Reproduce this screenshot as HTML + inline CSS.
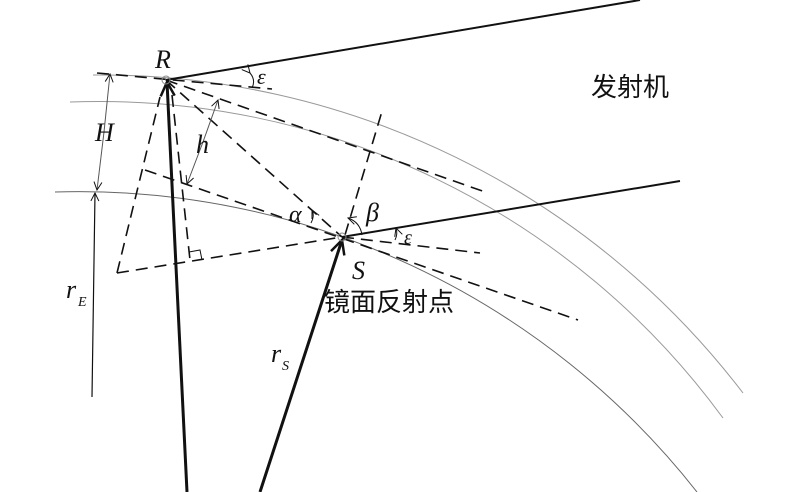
<!DOCTYPE html>
<html><head><meta charset="utf-8"><style>
html,body{margin:0;padding:0;background:#fff;}
svg{display:block;}
.t{font-family:"Liberation Serif",serif;font-style:italic;fill:#111;}
.c{font-family:"Liberation Sans","Noto Sans CJK SC",sans-serif;fill:#111;}
</style></head><body>
<svg width="800" height="492" viewBox="0 0 800 492" xmlns="http://www.w3.org/2000/svg">
<defs>
<marker id="a" markerWidth="10" markerHeight="10" refX="9" refY="5" orient="auto" markerUnits="userSpaceOnUse"><path d="M1,1 L9,5 L1,9" fill="none" stroke="#111" stroke-width="1"/></marker>
<marker id="b" markerWidth="18" markerHeight="18" refX="16" refY="9" orient="auto" markerUnits="userSpaceOnUse"><path d="M2,2 L16,9 L2,16" fill="none" stroke="#111" stroke-width="2.5"/></marker>
</defs>
<g fill="none">
<!-- earth arcs -->
<path d="M93,75 A808.2,808.2 0 0 1 743,393" stroke="#999" stroke-width="1"/>
<path d="M70,102 A773.2,773.2 0 0 1 723,418" stroke="#999" stroke-width="1"/>
<path d="M55,192 A786.3,786.3 0 0 1 697,492" stroke="#666" stroke-width="1"/>
<!-- solid rays -->
<line x1="166" y1="80" x2="640" y2="0" stroke="#111" stroke-width="2"/>
<line x1="342" y1="237" x2="680" y2="181" stroke="#111" stroke-width="2"/>
<!-- dashed -->
<g stroke="#111" stroke-width="1.6" stroke-dasharray="12,7">
<line x1="97" y1="73" x2="272" y2="89"/>
<line x1="166" y1="80" x2="488" y2="193"/>
<line x1="166" y1="80" x2="342" y2="237"/>
<line x1="145" y1="170" x2="578" y2="320"/>
<line x1="117" y1="273" x2="342" y2="237"/>
<line x1="342" y1="237" x2="480" y2="253"/>
<line x1="117" y1="273" x2="160" y2="97"/>
<line x1="172" y1="95" x2="190" y2="260"/>
<line x1="345" y1="235" x2="383" y2="108"/>
</g>
<path d="M189,252 L200,250 L202,260" stroke="#111" stroke-width="1"/>
<!-- thick arrows -->
<line x1="187" y1="492" x2="167" y2="82" stroke="#111" stroke-width="3" marker-end="url(#b)"/>
<line x1="260" y1="492" x2="342" y2="240" stroke="#111" stroke-width="3" marker-end="url(#b)"/>
<!-- thin arrows -->
<line x1="92" y1="397" x2="95" y2="193" stroke="#111" stroke-width="1.2" marker-end="url(#a)"/>
<line x1="104" y1="132" x2="110" y2="74" stroke="#555" stroke-width="1" marker-end="url(#a)"/>
<line x1="104" y1="132" x2="97" y2="190" stroke="#555" stroke-width="1" marker-end="url(#a)"/>
<line x1="203" y1="142" x2="218" y2="100" stroke="#555" stroke-width="1" marker-end="url(#a)"/>
<line x1="203" y1="142" x2="187" y2="184" stroke="#555" stroke-width="1" marker-end="url(#a)"/>
<!-- angle arcs -->
<path d="M250,73 Q256,80 252,88" stroke="#111" stroke-width="1" marker-start="url(#a)"/>
<path d="M311,223 Q315,216 312,210" stroke="#111" stroke-width="1" marker-end="url(#a)"/>
<path d="M362,235 Q360,222 348,218" stroke="#111" stroke-width="1" marker-end="url(#a)"/>
<path d="M395,240 Q398,234 396,228" stroke="#111" stroke-width="1" marker-end="url(#a)"/>
<circle cx="166" cy="80" r="4" stroke="#888" stroke-width="1"/>
<circle cx="342" cy="237" r="4" stroke="#888" stroke-width="1"/>
</g>
<text class="t" x="155" y="68" font-size="26">R</text>
<text class="t" x="257" y="84" font-size="22">ε</text>
<text class="c" x="591" y="96" font-size="26">发射机</text>
<text class="t" x="95" y="141" font-size="26">H</text>
<text class="t" x="196" y="153" font-size="26">h</text>
<text class="t" x="289" y="222" font-size="24">α</text>
<text class="t" x="366" y="221" font-size="26">β</text>
<text class="t" x="404" y="244" font-size="20">ε</text>
<text class="t" x="352" y="279" font-size="26">S</text>
<text class="c" x="324" y="311" font-size="26">镜面反射点</text>
<text class="t" x="66" y="298" font-size="26">r</text>
<text class="t" x="78" y="306" font-size="14">E</text>
<text class="t" x="271" y="362" font-size="26">r</text>
<text class="t" x="282" y="370" font-size="14">S</text>
</svg>
</body></html>
